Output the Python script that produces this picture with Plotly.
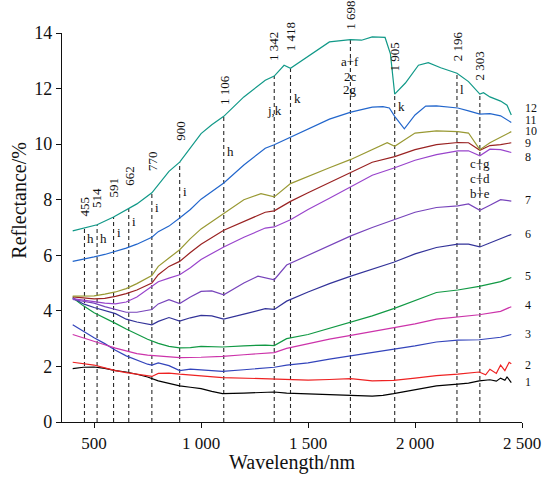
import plotly.graph_objects as go

# spectra: wavelength (nm) / reflectance (%)
wl_1 = [400, 450, 500, 550, 600, 650, 700, 750, 800, 850, 900, 950, 1000, 1050, 1100, 1200, 1300, 1342, 1400, 1500,
        1600, 1700, 1800, 1850, 1900, 2000, 2100, 2200, 2250, 2300, 2350, 2380, 2400, 2420, 2430, 2450]
r_1 = [1.92, 1.97, 1.98, 1.93, 1.85, 1.80, 1.72, 1.62, 1.48, 1.40, 1.30, 1.25, 1.20, 1.10, 1.02, 1.04, 1.05, 1.08, 1.04, 1.02,
       0.98, 0.96, 0.93, 0.96, 1.02, 1.15, 1.30, 1.36, 1.40, 1.48, 1.52, 1.47, 1.58, 1.50, 1.62, 1.42]

wl_2 = [400, 450, 500, 550, 600, 650, 700, 750, 770, 800, 850, 900, 950, 1000, 1100, 1200, 1342, 1400, 1500, 1600,
        1700, 1800, 1900, 2000, 2100, 2200, 2300, 2330, 2350, 2380, 2400, 2420, 2440, 2450]
r_2 = [2.15, 2.10, 2.05, 1.95, 1.85, 1.78, 1.73, 1.66, 1.64, 1.75, 1.76, 1.72, 1.68, 1.66, 1.60, 1.58, 1.56, 1.54, 1.51, 1.53,
       1.56, 1.48, 1.50, 1.58, 1.67, 1.72, 1.80, 1.70, 1.90, 1.75, 2.05, 1.85, 2.15, 2.10]

wl_3 = [400, 450, 500, 550, 600, 650, 700, 750, 770, 800, 850, 900, 950, 1000, 1100, 1200, 1300, 1342, 1400, 1500,
        1600, 1700, 1800, 1900, 2000, 2100, 2200, 2300, 2400, 2450]
r_3 = [3.50, 3.25, 3.03, 2.82, 2.58, 2.38, 2.22, 2.08, 2.05, 2.13, 2.03, 1.85, 1.90, 1.88, 1.82, 1.88, 1.95, 1.97, 2.05, 2.13,
       2.26, 2.38, 2.50, 2.60, 2.74, 2.88, 2.95, 2.96, 3.05, 3.15]

wl_4 = [400, 450, 500, 550, 600, 650, 700, 750, 800, 900, 1000, 1100, 1200, 1300, 1342, 1400, 1500, 1600, 1700, 1800,
        1900, 2000, 2100, 2200, 2300, 2400, 2450]
r_4 = [3.15, 3.02, 2.90, 2.78, 2.66, 2.55, 2.46, 2.41, 2.38, 2.32, 2.33, 2.36, 2.42, 2.47, 2.50, 2.65, 2.82, 2.98, 3.12, 3.25,
       3.38, 3.53, 3.70, 3.78, 3.86, 3.98, 4.15]

wl_5 = [400, 450, 500, 550, 600, 650, 700, 750, 800, 850, 900, 950, 1000, 1100, 1200, 1300, 1342, 1400, 1500, 1600,
        1700, 1800, 1900, 2000, 2100, 2200, 2300, 2400, 2450]
r_5 = [4.47, 4.18, 3.93, 3.75, 3.55, 3.35, 3.17, 2.98, 2.83, 2.72, 2.67, 2.68, 2.72, 2.70, 2.74, 2.77, 2.75, 3.00, 3.15, 3.38,
       3.60, 3.82, 4.08, 4.38, 4.66, 4.75, 4.88, 5.05, 5.20]

wl_6 = [400, 450, 500, 550, 600, 650, 700, 770, 800, 850, 900, 950, 1000, 1050, 1106, 1200, 1300, 1342, 1400, 1500,
        1600, 1700, 1800, 1900, 2000, 2100, 2200, 2250, 2303, 2400, 2450]
r_6 = [4.47, 4.25, 4.12, 4.00, 3.90, 3.70, 3.60, 3.50, 3.62, 3.76, 3.63, 3.75, 3.84, 3.82, 3.70, 3.88, 4.08, 4.05, 4.35, 4.68,
       4.98, 5.25, 5.50, 5.75, 6.05, 6.28, 6.40, 6.40, 6.30, 6.60, 6.75]

wl_7 = [400, 450, 500, 550, 600, 650, 700, 770, 800, 850, 900, 950, 1000, 1050, 1106, 1200, 1266, 1342, 1400, 1500,
        1600, 1700, 1800, 1900, 1950, 2000, 2100, 2200, 2250, 2303, 2350, 2400, 2450]
r_7 = [4.41, 4.35, 4.28, 4.15, 4.05, 3.95, 3.95, 4.05, 4.25, 4.40, 4.26, 4.50, 4.70, 4.72, 4.58, 5.00, 5.25, 5.12, 5.65, 6.00,
       6.35, 6.70, 7.00, 7.28, 7.40, 7.55, 7.72, 7.78, 7.85, 7.62, 7.80, 8.00, 7.95]

wl_8 = [400, 450, 500, 550, 600, 650, 700, 770, 800, 850, 900, 950, 1000, 1106, 1200, 1300, 1342, 1418, 1500, 1600,
        1700, 1800, 1905, 2000, 2100, 2200, 2250, 2303, 2350, 2400, 2450]
r_8 = [4.44, 4.38, 4.33, 4.28, 4.25, 4.32, 4.50, 4.88, 5.05, 5.18, 5.30, 5.55, 5.85, 6.30, 6.65, 6.98, 7.02, 7.28, 7.65, 8.05,
       8.45, 8.88, 9.15, 9.42, 9.62, 9.76, 9.76, 9.58, 9.82, 9.80, 9.70]

wl_9 = [400, 450, 500, 550, 600, 650, 700, 770, 800, 850, 900, 950, 1000, 1106, 1200, 1300, 1342, 1418, 1500, 1600,
        1700, 1800, 1905, 2000, 2100, 2200, 2250, 2303, 2350, 2400, 2450]
r_9 = [4.50, 4.46, 4.43, 4.45, 4.52, 4.62, 4.75, 5.00, 5.30, 5.60, 5.78, 6.10, 6.40, 6.90, 7.22, 7.55, 7.60, 7.94, 8.25, 8.62,
       9.00, 9.35, 9.55, 9.80, 9.98, 10.06, 10.05, 9.78, 9.95, 9.98, 10.05]

wl_10 = [400, 450, 500, 550, 600, 650, 700, 770, 800, 850, 900, 950, 1000, 1106, 1200, 1280, 1342, 1418, 1500, 1600,
         1700, 1800, 1870, 1905, 2000, 2100, 2200, 2250, 2303, 2350, 2400, 2450]
r_10 = [4.53, 4.53, 4.54, 4.60, 4.68, 4.80, 4.98, 5.27, 5.60, 5.90, 6.20, 6.60, 6.95, 7.50, 8.00, 8.22, 8.10, 8.58, 8.85, 9.15,
        9.45, 9.80, 10.05, 9.92, 10.40, 10.48, 10.45, 10.40, 9.80, 10.05, 10.25, 10.45]

wl_11 = [400, 450, 500, 550, 600, 650, 700, 770, 800, 850, 900, 950, 1000, 1106, 1200, 1300, 1342, 1418, 1500, 1600,
         1700, 1800, 1850, 1880, 1905, 1950, 2000, 2050, 2100, 2200, 2250, 2303, 2350, 2400, 2450]
r_11 = [5.78, 5.85, 5.94, 6.03, 6.14, 6.26, 6.40, 6.65, 6.85, 7.05, 7.34, 7.65, 8.02, 8.60, 9.25, 9.85, 9.98, 10.25, 10.55, 10.90,
        11.15, 11.33, 11.35, 11.30, 11.00, 10.55, 11.05, 11.37, 11.38, 11.30, 11.20, 11.08, 11.10, 11.02, 10.78]

wl_12 = [400, 455, 514, 591, 662, 700, 770, 800, 850, 900, 950, 1000, 1050, 1106, 1200, 1300, 1342, 1388, 1418, 1500,
         1600, 1698, 1750, 1800, 1860, 1885, 1905, 1955, 2016, 2062, 2120, 2196, 2250, 2303, 2320, 2350, 2400, 2430, 2450]
r_12 = [6.88, 6.98, 7.10, 7.38, 7.68, 7.85, 8.25, 8.55, 9.02, 9.35, 9.85, 10.38, 10.70, 11.00, 11.70, 12.30, 12.45, 12.84, 12.73, 13.15,
        13.68, 13.76, 13.74, 13.86, 13.84, 13.25, 11.80, 12.20, 12.84, 12.93, 12.75, 12.55, 12.25, 11.80, 11.85, 11.70, 11.55, 11.40, 11.05]

series_wl = [wl_1, wl_2, wl_3, wl_4, wl_5, wl_6, wl_7, wl_8, wl_9, wl_10, wl_11, wl_12]
series_r = [r_1, r_2, r_3, r_4, r_5, r_6, r_7, r_8, r_9, r_10, r_11, r_12]
series_names = ["1", "2", "3", "4", "5", "6", "7", "8", "9", "10", "11", "12"]
colors = ["#000000", "#ee2222", "#3344bb", "#cc33aa", "#119944", "#333399",
          "#7744bb", "#9944cc", "#992222", "#999933", "#2266cc", "#119988"]
# where the number of each curve sits at the right
name_y = [1.44, 2.05, 3.16, 4.2, 5.24, 6.76, 7.98, 9.52, 10.04, 10.47, 10.88, 11.31]

# absorption features: dashed line from 0 up to curve 12
band_wl = [455, 514, 591, 662, 770, 900, 1106, 1342, 1418, 1698, 1905, 2196, 2303]
band_top = [6.98, 7.10, 7.38, 7.68, 8.25, 9.35, 11.00, 12.45, 12.73, 13.76, 11.80, 12.55, 11.80]
band_text = ["455", "514", "591", "662", "770", "900", "1 106", "1 342", "1 418", "1 698", "1 905", "2 196", "2 303"]
band_text_y = [7.34, 7.63, 7.99, 8.42, 8.96, 10.04, 11.33, 12.91, 13.27, 14.04, 12.55, 12.91, 12.23]

# letter assignments next to the dashed lines
letter_wl = [455, 514, 591, 662, 770, 900, 1106, 1342, 1418, 1698, 1698, 1698, 1905, 2196, 2303, 2303, 2303]
letter_y = [6.6, 6.6, 6.82, 7.2, 7.71, 8.28, 9.72, 11.22, 11.65, 12.96, 12.42, 11.95, 11.35, 11.95, 9.31, 8.78, 8.24]
letter_text = ["h", "h", "i", "i", "i", "i", "h", "j,k", "k", "a+f", "2c", "2g", "k", "l", "c+g", "c+d", "b+e"]
letter_center = [False, False, False, False, False, False, False, True, False, True, True, True, False, False, True, True, True]

FONT = "Liberation Serif, Times New Roman, serif"
Y_MAX = 14

fig = go.Figure()

for w, top in zip(band_wl, band_top):
    fig.add_trace(go.Scatter(x=[w, w], y=[0, top], mode="lines",
                             line=dict(color="#2a2a2a", width=1.1, dash="4px,3px"),
                             showlegend=False, hoverinfo="skip"))

for w, r, n, c in zip(series_wl, series_r, series_names, colors):
    fig.add_trace(go.Scatter(x=w, y=r, mode="lines", name=n,
                             line=dict(color=c, width=1.2), showlegend=False))

annotations = []
for w, t, ty in zip(band_wl, band_text, band_text_y):
    annotations.append(dict(x=w, y=ty / Y_MAX, xref="x", yref="paper", text=t, textangle=-90,
                            showarrow=False, xanchor="center", yanchor="bottom",
                            font=dict(family=FONT, size=13, color="#111111")))

for w, ly, t, cen in zip(letter_wl, letter_y, letter_text, letter_center):
    annotations.append(dict(x=w, y=ly, xref="x", yref="y", text=t, showarrow=False,
                            xanchor="center" if cen else "left", yanchor="middle",
                            xshift=0 if cen else 1,
                            font=dict(family=FONT, size=13, color="#111111")))

for n, ny in zip(series_names, name_y):
    annotations.append(dict(x=2500, y=ny, xref="x", yref="y", text=n, showarrow=False,
                            xanchor="left", yanchor="middle", xshift=1,
                            font=dict(family=FONT, size=12, color="#111111")))

annotations.append(dict(x=-0.094, y=0.571, xref="paper", yref="paper", text="Reflectance/%",
                        textangle=-90, showarrow=False, xanchor="center", yanchor="middle",
                        font=dict(family=FONT, size=20, color="#111111")))
annotations.append(dict(x=0.5, y=-0.105, xref="paper", yref="paper", text="Wavelength/nm",
                        showarrow=False, xanchor="center", yanchor="middle",
                        font=dict(family=FONT, size=20, color="#111111")))

fig.update_layout(
    width=553, height=478,
    margin=dict(l=62, r=24, t=33, b=56),
    plot_bgcolor="white", paper_bgcolor="white",
    font=dict(family=FONT, color="#111111"),
    annotations=annotations,
    xaxis=dict(range=[350, 2500], tickvals=[500, 1000, 1500, 2000, 2500],
               ticktext=["500", "1 000", "1 500", "2 000", "2 500"],
               showline=True, linecolor="#111111", linewidth=1.2, ticks="outside",
               ticklen=5, tickcolor="#111111", showgrid=False, zeroline=False,
               tickfont=dict(family=FONT, size=17)),
    yaxis=dict(range=[0, Y_MAX], tickvals=[0, 2, 4, 6, 8, 10, 12, 14],
               showline=True, linecolor="#111111", linewidth=1.2, ticks="outside",
               ticklen=5, tickcolor="#111111", showgrid=False, zeroline=False,
               tickfont=dict(family=FONT, size=18)),
)

# drop the default 8px body margin so the figure fills the window
fig.write_html("out.html", config={"displayModeBar": False},
               post_script="document.body.style.margin='0';")
